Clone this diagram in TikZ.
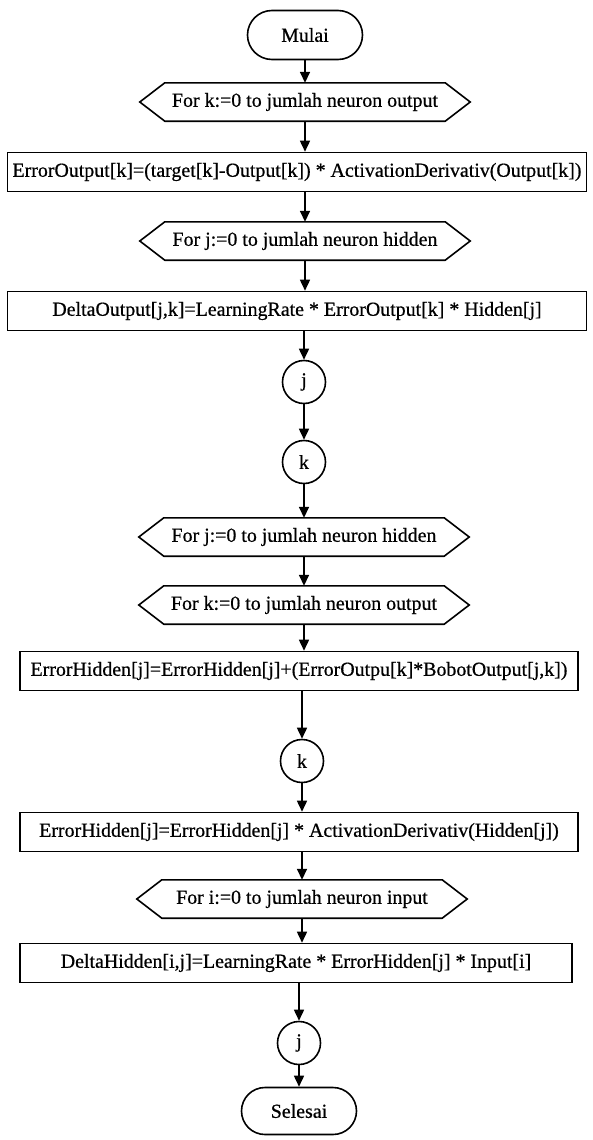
\documentclass[tikz,border=0pt]{standalone}
\usepackage{fontspec}
\setmainfont{Liberation Serif}[FakeBold=0.6]
\usetikzlibrary{arrows.meta,shapes.misc}

\tikzset{
  line/.style={line width=1.6pt, draw=black},
  arr/.style={line, -{Triangle[length=11pt,width=10pt]}},
  term/.style={line, rounded rectangle, minimum width=115pt, minimum height=49pt, inner sep=0pt},
  procbox/.style={line, rectangle, minimum height=39pt, inner sep=0pt},
  loopbox/.style={rectangle, minimum width=280pt, minimum height=38pt, inner sep=0pt},
  conn/.style={line, circle, minimum size=43pt, inner sep=0pt},
}

\begin{document}
\begin{tikzpicture}[x=1pt, y=-1pt, font=\fontsize{19.9}{22}\selectfont]
  \useasboundingbox (0,0) rectangle (592,1140);

  % start
  \node[term] (start) at (305,35) {Mulai};

  % output layer error and weight change
  \node[loopbox] (h1) at (305,102) {For k:=0 to jumlah neuron output};
  \node[procbox, minimum width=579pt] (b1) at (297,172) {ErrorOutput[k]=(target[k]-Output[k]) * ActivationDerivativ(Output[k])};
  \node[loopbox] (h2) at (305,241) {For j:=0 to jumlah neuron hidden};
  \node[procbox, minimum width=579pt] (b2) at (297,311) {DeltaOutput[j,k]=LearningRate * ErrorOutput[k] * Hidden[j]};
  \node[conn] (cj1) at (304,382) {j};
  \node[conn] (ck1) at (304,462) {k};

  % hidden layer error
  \node[loopbox] (h3) at (304,537) {For j:=0 to jumlah neuron hidden};
  \node[loopbox] (h4) at (304,605) {For k:=0 to jumlah neuron output};
  \node[procbox, minimum width=558pt] (b3) at (299,671) {ErrorHidden[j]=ErrorHidden[j]+(ErrorOutpu[k]*BobotOutput[j,k])};
  \node[conn] (ck2) at (302,761) {k};
  \node[procbox, minimum width=558pt] (b4) at (299,832) {ErrorHidden[j]=ErrorHidden[j] * ActivationDerivativ(Hidden[j])};

  % hidden layer weight change
  \node[loopbox] (h5) at (302,899) {For i:=0 to jumlah neuron input};
  \node[procbox, minimum width=552pt] (b5) at (296,963) {DeltaHidden[i,j]=LearningRate * ErrorHidden[j] * Input[i]};
  \node[conn] (cj2) at (299,1043) {j};
  \node[term, minimum height=47pt] (stop) at (299,1111) {Selesai};

  % hexagonal loop symbols
  \foreach \h in {h1,h2,h3,h4,h5}
    \draw[line, line join=miter] (\h.north west) -- (\h.north east) -- ([xshift=25pt]\h.east)
      -- (\h.south east) -- (\h.south west) -- ([xshift=-25pt]\h.west) -- cycle;

  % flow
  \draw[arr] (start.south) -- (start.south |- h1.north);
  \draw[arr] (h1.south) -- (h1.south |- b1.north);
  \draw[arr] (h2.north |- b1.south) -- (h2.north);
  \draw[arr] (h2.south) -- (h2.south |- b2.north);
  \draw[arr] (cj1.north |- b2.south) -- (cj1.north);
  \draw[arr] (cj1.south) -- (ck1.north);
  \draw[arr] (ck1.south) -- (ck1.south |- h3.north);
  \draw[arr] (h3.south) -- (h4.north);
  \draw[arr] (h4.south) -- (h4.south |- b3.north);
  \draw[arr] (ck2.north |- b3.south) -- (ck2.north);
  \draw[arr] (ck2.south) -- (ck2.south |- b4.north);
  \draw[arr] (h5.north |- b4.south) -- (h5.north);
  \draw[arr] (h5.south) -- (h5.south |- b5.north);
  \draw[arr] (cj2.north |- b5.south) -- (cj2.north);
  \draw[arr] (cj2.south) -- (stop.north);
\end{tikzpicture}
\end{document}
